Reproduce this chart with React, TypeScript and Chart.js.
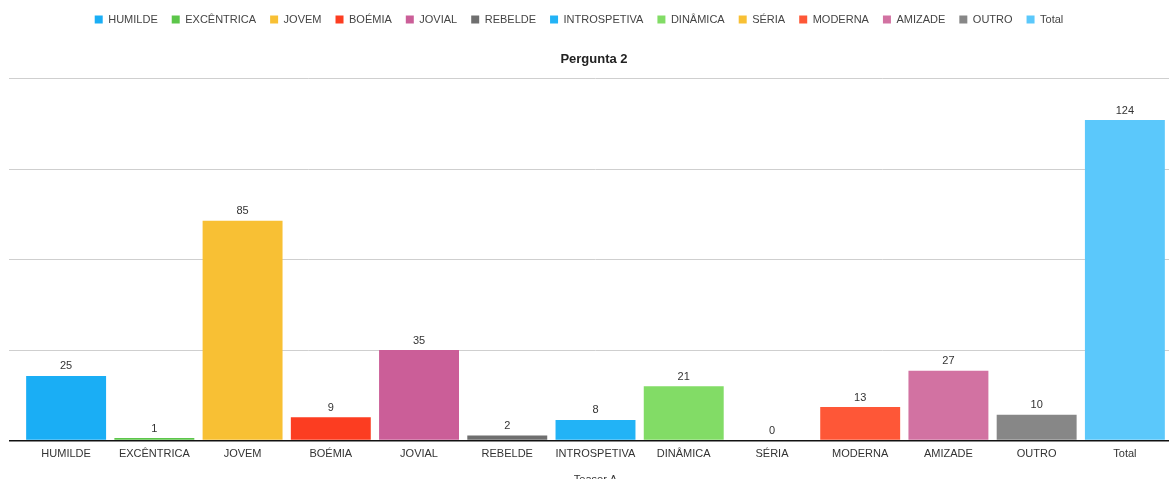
import React, { useEffect, useRef } from "react";
import { Chart, registerables } from "chart.js";

Chart.register(...registerables);

const categories = [
  "HUMILDE",
  "EXCÊNTRICA",
  "JOVEM",
  "BOÉMIA",
  "JOVIAL",
  "REBELDE",
  "INTROSPETIVA",
  "DINÂMICA",
  "SÉRIA",
  "MODERNA",
  "AMIZADE",
  "OUTRO",
  "Total",
];
const values = [25, 1, 85, 9, 35, 2, 8, 21, 0, 13, 27, 10, 124];
const colors = [
  "#1AAEF5",
  "#5CC64A",
  "#F8C034",
  "#FC3D21",
  "#CB5E98",
  "#6F6F6F",
  "#22B3F6",
  "#82DC66",
  "#F8C034",
  "#FE5737",
  "#D272A2",
  "#878787",
  "#5BC8FB",
];
const yTicks = [0, 35, 70, 105, 140];
const chartTitle = "Pergunta 2";
const xAxisTitle = "Teaser A";

const FONT = '"Liberation Sans", Arial, Helvetica, sans-serif';

const valueLabels = {
  id: "valueLabels",
  afterDatasetsDraw(chart: any) {
    const ctx = chart.ctx;
    const meta = chart.getDatasetMeta(0);
    ctx.save();
    ctx.font = `11px ${FONT}`;
    ctx.fillStyle = "#333";
    ctx.textAlign = "center";
    ctx.textBaseline = "middle";
    meta.data.forEach((el: any, i: number) => {
      ctx.fillText(String(values[i]), el.x, el.y - 9.5);
    });
    ctx.restore();
  },
};

// small horizontal nudges of the legend and title boxes
const boxNudge = {
  id: "boxNudge",
  afterLayout(chart: any) {
    if (chart.legend) {
      chart.legend.left -= 10;
      chart.legend.right -= 10;
    }
    if (chart.titleBlock) {
      chart.titleBlock.left += 5;
      chart.titleBlock.right += 5;
    }
  },
};

export default function App() {
  const ref = useRef<HTMLCanvasElement | null>(null);

  useEffect(() => {
    document.body.style.margin = "0";
    const canvas = ref.current;
    if (!canvas) return;
    const chart = new Chart(canvas, {
      type: "bar",
      data: {
        labels: categories,
        datasets: [
          {
            label: chartTitle,
            data: values,
            backgroundColor: colors,
            borderWidth: 0,
            barPercentage: 0.906,
            categoryPercentage: 1,
          },
        ],
      },
      options: {
        responsive: false,
        animation: false,
        layout: { padding: { top: 0, left: 9, right: 1, bottom: 0 } },
        plugins: {
          legend: {
            display: true,
            position: "top",
            weight: 3000,
            labels: {
              boxWidth: 8,
              boxHeight: 8,
              padding: 14,
              color: "#444",
              font: { family: FONT, size: 11 },
              generateLabels: () =>
                categories.map((c, i) => ({
                  text: c,
                  fillStyle: colors[i],
                  strokeStyle: colors[i],
                  lineWidth: 0,
                  hidden: false,
                  index: i,
                  fontColor: "#444",
                })),
            },
            onClick: () => {},
          },
          title: {
            display: true,
            text: chartTitle,
            color: "#222",
            font: { family: FONT, size: 13, weight: "bold" },
            padding: { top: 17, bottom: 11 },
          },
          tooltip: { enabled: false },
        },
        scales: {
          x: {
            grid: { display: false, drawTicks: false },
            border: { display: false },
            ticks: {
              color: "#333",
              font: { family: FONT, size: 11 },
              padding: 7,
              autoSkip: false,
              maxRotation: 0,
            },
            title: {
              display: true,
              text: xAxisTitle,
              color: "#333",
              font: { family: FONT, size: 11 },
              padding: { top: 6, bottom: 4 },
            },
          },
          y: {
            min: yTicks[0],
            max: yTicks[yTicks.length - 1],
            afterBuildTicks: (scale: any) => {
              scale.ticks = yTicks.map((v) => ({ value: v }));
            },
            ticks: { display: false },
            border: { display: false },
            grid: {
              drawTicks: true,
              tickLength: 13,
              color: (c: any) => (c.tick && c.tick.value === 0 ? "#111" : "#cfcfcf"),
              lineWidth: (c: any) => (c.tick && c.tick.value === 0 ? 1.5 : 1),
            },
          },
        },
      },
      plugins: [valueLabels, boxNudge],
    });
    return () => chart.destroy();
  }, []);

  return (
    <div style={{ width: 1170, height: 479, overflow: "hidden", background: "#fff" }}>
      <canvas ref={ref} width={1170} height={491} style={{ display: "block" }} />
    </div>
  );
}
